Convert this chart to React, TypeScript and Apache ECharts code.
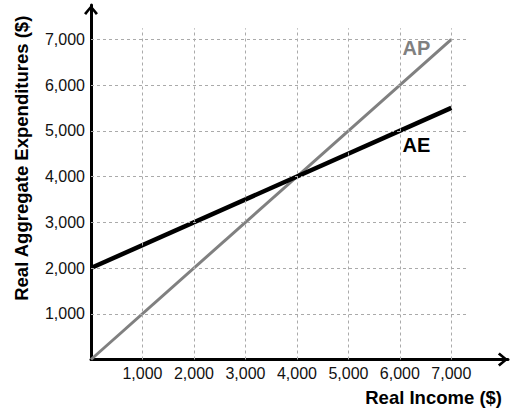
import React, { useEffect, useRef } from "react";
import * as echarts from "echarts";

const xTicks = [1000, 2000, 3000, 4000, 5000, 6000, 7000];
const yTicks = [1000, 2000, 3000, 4000, 5000, 6000, 7000];
const apLine = [[0, 0], [7000, 7000]];
const aeLine = [[0, 2000], [7000, 5500]];
const apLabel = { name: "AP", coord: [6050, 6800] };
const aeLabel = { name: "AE", coord: [6050, 4690] };
const gridXEnd = 7320;
const gridYEnd = 7240;
const xMax = 8100;
const yMax = 7750;

const fmt = (v: number) => {
  if (v < 1000 || v > 7000 || v % 1000 !== 0) return "";
  const s = String(v);
  return s.slice(0, s.length - 3) + "," + s.slice(s.length - 3);
};

const FONT = "Liberation Sans, Arial, Helvetica, sans-serif";
const ARROW = "path://M10,0 L20,12 L17,14.6 L10,5.6 L3,14.6 L0,12 Z";

export default function App() {
  const ref = useRef<HTMLDivElement>(null);
  useEffect(() => {
    if (!ref.current) return;
    const chart = echarts.init(ref.current, null, { renderer: "svg" });
    const gridLines: any[] = [];
    xTicks.forEach((x) => gridLines.push([{ coord: [x, 0] }, { coord: [x, gridYEnd] }]));
    yTicks.forEach((y) => gridLines.push([{ coord: [0, y] }, { coord: [gridXEnd, y] }]));
    const axisCommon = {
      type: "value",
      min: 0,
      interval: 1000,
      splitLine: { show: false },
      axisTick: { show: false },
      axisLine: {
        show: true,
        symbol: ["none", ARROW],
        symbolSize: [14, 10.2],
        symbolOffset: [0, -5],
        lineStyle: { color: "#000", width: 3 },
      },
    };
    chart.setOption({
      animation: false,
      textStyle: { fontFamily: FONT },
      grid: { left: 91, right: 21, top: 5, bottom: 59.5, containLabel: false },
      xAxis: {
        ...axisCommon,
        max: xMax,
        axisLabel: { formatter: fmt, color: "#111", fontSize: 16, margin: 6, fontFamily: FONT },
        name: "Real Income ($)",
        nameLocation: "end",
        nameGap: -6,
        nameTextStyle: {
          fontSize: 18.5,
          fontWeight: "bold",
          color: "#000",
          align: "right",
          verticalAlign: "top",
          padding: [28, 0, 0, 0],
          fontFamily: FONT,
        },
      },
      yAxis: {
        ...axisCommon,
        max: yMax,
        axisLabel: {
          formatter: fmt,
          color: "#111",
          fontSize: 16,
          margin: 6,
          fontFamily: FONT,
          padding: [4, 0, 0, 0],
        },
        name: "Real Aggregate Expenditures ($)",
        nameLocation: "middle",
        nameGap: 60,
        nameTextStyle: {
          fontSize: 18.5,
          fontWeight: "bold",
          color: "#000",
          padding: [0, 0, 0, 48],
          fontFamily: FONT,
        },
      },
      series: [
        {
          type: "line",
          data: [],
          z: 1,
          silent: true,
          markLine: {
            silent: true,
            symbol: ["none", "none"],
            label: { show: false },
            lineStyle: { color: "#aaa", width: 1, type: [3, 3] },
            emphasis: { disabled: true },
            data: gridLines,
          },
        },
        {
          type: "line",
          name: "AP",
          data: apLine,
          z: 3,
          symbol: "none",
          lineStyle: { color: "#808080", width: 3 },
          markPoint: {
            symbol: "circle",
            symbolSize: 0,
            data: [apLabel],
            label: {
              show: true,
              position: "right",
              distance: 0,
              formatter: apLabel.name,
              color: "#808080",
              fontSize: 20,
              fontWeight: "bold",
              fontFamily: FONT,
            },
          },
        },
        {
          type: "line",
          name: "AE",
          data: aeLine,
          z: 4,
          symbol: "none",
          lineStyle: { color: "#000", width: 4.5 },
          markPoint: {
            symbol: "circle",
            symbolSize: 0,
            data: [aeLabel],
            label: {
              show: true,
              position: "right",
              distance: 0,
              formatter: aeLabel.name,
              color: "#000",
              fontSize: 20,
              fontWeight: "bold",
              fontFamily: FONT,
            },
          },
        },
      ],
    });
    return () => chart.dispose();
  }, []);
  return (
    <div
      ref={ref}
      style={{ position: "fixed", left: 0, top: 0, width: 529, height: 419, background: "#fff" }}
    />
  );
}
